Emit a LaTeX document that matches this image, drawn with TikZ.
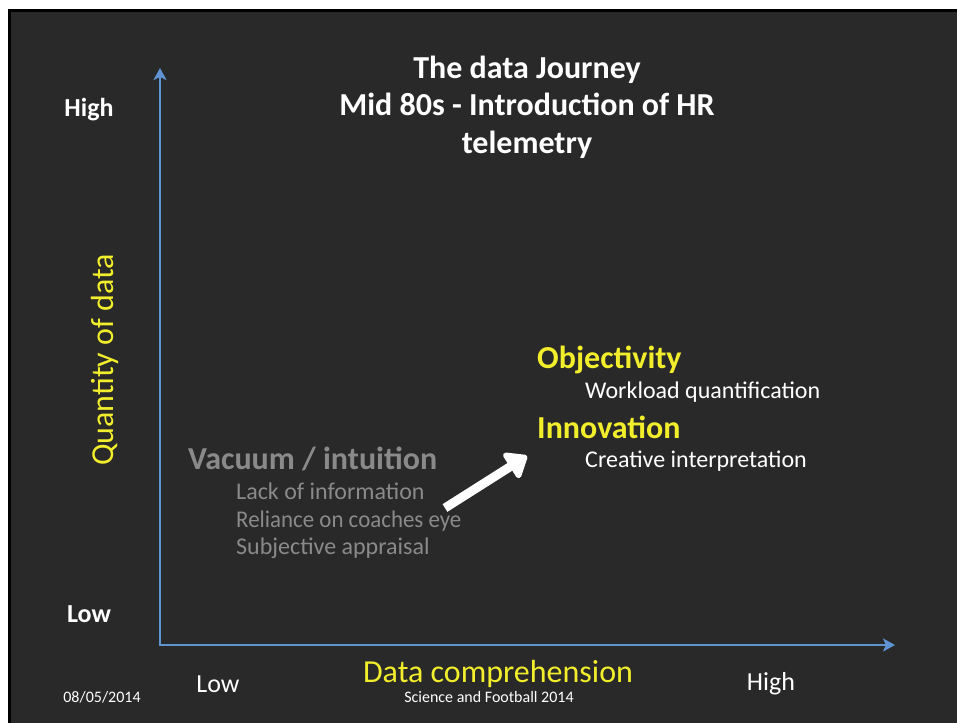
\documentclass[tikz,border=0pt]{standalone}
\usepackage{fontspec}
\setmainfont{Carlito}
\usetikzlibrary{arrows.meta}
\definecolor{bg}{HTML}{292929}
\definecolor{axis}{HTML}{5F94D2}
\definecolor{yel}{HTML}{F2EE2C}
\definecolor{gry}{HTML}{8A8A8A}
\tikzset{
  axisline/.style={draw=axis,line width=2.6pt,-{Stealth[length=12pt,width=13pt,inset=3pt]}},
  lbl/.style={text=white,inner sep=0pt,font=\fontsize{26}{30}\selectfont},
  lblb/.style={lbl,font=\fontsize{26}{30}\selectfont\bfseries},
  title/.style={text=white,inner sep=0pt,align=center,font=\fontsize{32}{37.5}\selectfont\bfseries},
  head/.style={text=yel,inner sep=0pt,anchor=west,font=\fontsize{32}{36}\selectfont\bfseries},
  sub/.style={text=white,inner sep=0pt,anchor=west,font=\fontsize{24}{28}\selectfont},
  ghead/.style={head,text=gry},
  gsub/.style={sub,text=gry},
  small/.style={text=white,inner sep=0pt,font=\fontsize{16}{18}\selectfont},
  big/.style={text=yel,inner sep=0pt,font=\fontsize{32}{36}\selectfont},
}
\begin{document}
\begin{tikzpicture}[x=1pt,y=-1pt]
\useasboundingbox (0,0) rectangle (957,722);
\fill[white] (0,0) rectangle (957,722);
\fill[black] (8,9) rectangle (960,725);
\fill[bg] (11,12) rectangle (960,725);
% axes
\coordinate (o) at (160,645);
\coordinate (ytip) at (160,68);
\coordinate (xtip) at (895,645);
\draw[axisline] (160,646.3) -- (ytip);
\draw[axisline] (158.7,645) -- (xtip);
% title
\node[title] (t) at (527,107) {The data Journey\\Mid 80s - Introduction of HR\\telemetry};
% axis labels
\node[lblb] (yh) at (89,110) {High};
\node[lblb] (yl) at (89,614) {Low};
\node[lbl] (xl) at (218,684) {Low};
\node[lbl] (xh) at (771,684) {High};
\node[big,rotate=90] (yq) at (105,360) {Quantity of data};
\node[big] (xq) at (498,674) {Data comprehension};
\node[small] (date) at (102,697) {08/05/2014};
\node[small] (sf) at (489,697) {Science and Football 2014};
% right group
\node[head] (obj) at (537,360) {Objectivity};
\node[sub] (wq) at (585,392) {Workload quantification};
\node[head] (inn) at (537,427) {Innovation};
\node[sub] (ci) at (585,461) {Creative interpretation};
% left group
\node[ghead] (vac) at (188,459) {Vacuum / intuition};
\node[gsub] (l1) at (236,491) {Lack of information};
\node[gsub,xscale=0.955] (l2) at (236,521) {Reliance on coaches eye};
\node[gsub] (l3) at (236,548) {Subjective appraisal};
% arrow
\coordinate (as) at (445,508);
\coordinate (ae) at (527,456);
\draw[white,line width=9pt,-{Triangle[length=22pt,width=34pt,round]}] (as) -- (ae);
\end{tikzpicture}
\end{document}
